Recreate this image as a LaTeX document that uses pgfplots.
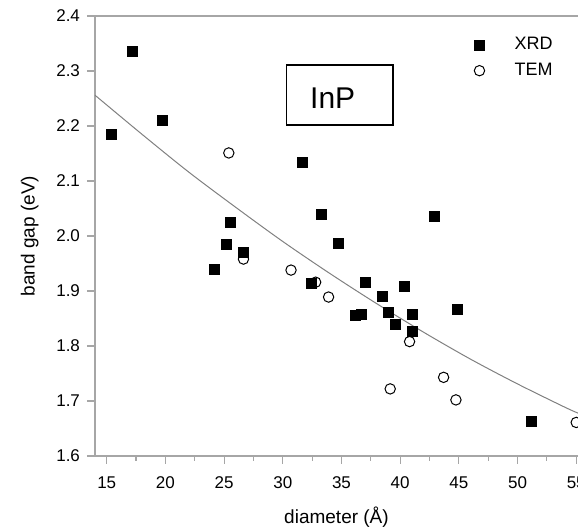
\documentclass[border=0pt]{standalone}
\usepackage{pgfplots}
\pgfplotsset{compat=1.18}
\usepackage{fontspec}
\setmainfont{Liberation Sans}

% XRD squares and TEM circles
\pgfplotstableread{
d     eg
15.4  2.185
17.2  2.335
19.75 2.210
24.2  1.940
25.2  1.985
25.5  2.025
26.65 1.970
31.7  2.133
32.4  1.913
33.3  2.040
34.7  1.986
36.2  1.856
36.7  1.858
37.0  1.915
38.5  1.890
39.0  1.861
39.6  1.840
40.35 1.909
41.0  1.858
41.05 1.827
42.9  2.036
44.9  1.866
51.2  1.662
}\xrd
\pgfplotstableread{
d     eg
25.4  2.151
26.65 1.958
30.7  1.938
32.8  1.916
33.9  1.889
39.15 1.722
40.8  1.808
43.7  1.743
44.75 1.702
55.0  1.661
}\tem

\begin{document}
\begin{tikzpicture}
\begin{axis}[
    scale only axis,
    width=241.5pt, height=220pt,
    xmin=14, xmax=55.15,
    ymin=1.6, ymax=2.4,
    axis x line=box, axis y line=left,
    axis line style={-, gray!70, line width=0.6pt},
    xtick={15,20,...,55}, ytick={1.6,1.7,...,2.4},
    minor x tick num=1,
    xtick pos=bottom, ytick pos=left,
    tick align=outside,
    major tick length=4pt, minor tick length=2.5pt,
    tick style={gray!70, line width=0.6pt},
    /pgf/number format/assume math mode=true,
    ticklabel style={font=\fontsize{8.5}{10}\selectfont},
    yticklabel style={/pgf/number format/.cd, fixed, fixed zerofill, precision=1},
    xticklabel style={yshift=-3pt},
    xlabel={diameter (Å)},
    ylabel={band gap (eV)},
    label style={font=\fontsize{9.5}{11}\selectfont},
    xlabel style={at={(axis description cs:0.5,-0.139)}, anchor=center},
    ylabel style={at={(axis description cs:-0.135,0.5)}, anchor=center},
    legend style={at={(axis description cs:0.772,0.97)}, anchor=north west,
        draw=none, fill=none, font=\fontsize{9}{10}\selectfont,
        row sep=1pt, column sep=13pt},
    legend cell align=left,
]
\addplot[only marks, mark=square*, mark size=2.5pt, black] table[x=d, y=eg] {\xrd};
\addlegendentry{XRD}
\addplot[only marks, mark=o, mark size=2.6pt, black, mark options={line width=0.5pt}] table[x=d, y=eg] {\tem};
\addlegendentry{TEM}
\addplot[gray, line width=0.5pt, smooth, forget plot] coordinates {
    (14,2.256)(18,2.185)(22,2.116)(26,2.052)(30,1.990)(34,1.932)
    (38,1.877)(42,1.825)(46,1.776)(50,1.731)(54,1.689)(55.15,1.678)
};
\draw[black, line width=0.8pt] (axis cs:30.32,2.311) rectangle (axis cs:39.41,2.202);
\node[anchor=base west, inner sep=0pt, font=\fontsize{15}{16}\selectfont]
    at (axis cs:32.3,2.232) {InP};
\end{axis}
\pgfresetboundingbox
\path[use as bounding box] ([shift={(-47.5pt,-36pt)}]current axis.south west)
    rectangle ([shift={(0pt,8pt)}]current axis.north east);
\end{tikzpicture}
\end{document}
